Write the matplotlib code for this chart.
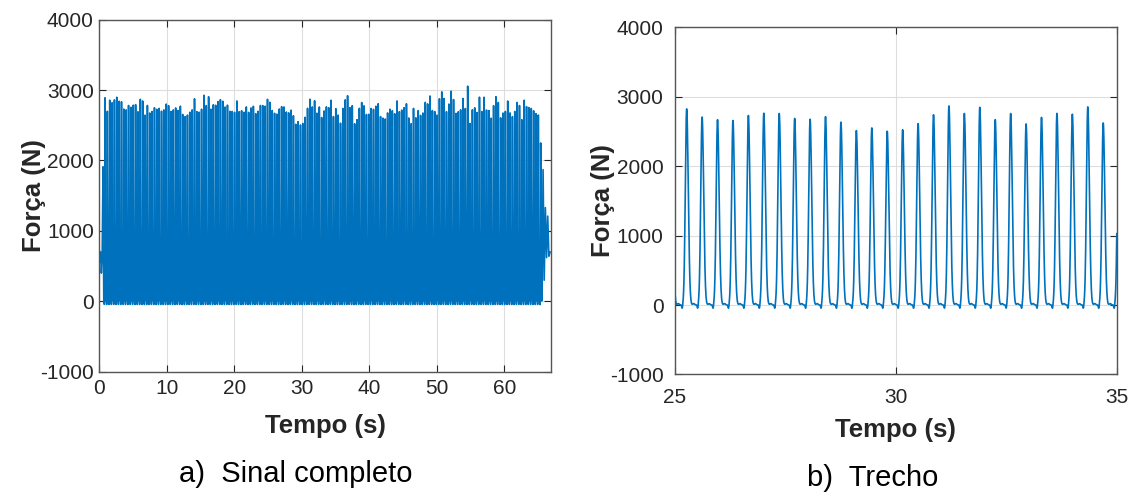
import numpy as np
import matplotlib
matplotlib.use('Agg')
import matplotlib.pyplot as plt

# Peak force of each load cycle (N)
# cycles repeat every ~0.349 s, first full cycle at ~0.84 s
peaks_00_30 = [2890, 2700, 2860, 2820, 2860, 2900, 2845, 2835, 2730, 2720, 2785,
               2755, 2785, 2795, 2695, 2870, 2845, 2645, 2785, 2675, 2695, 2750,
               2730, 2740, 2700, 2720, 2805, 2780, 2695, 2720, 2750]
peaks_31_63 = [2710, 2770, 2655, 2625, 2645, 2685, 2720, 2880, 2695, 2685, 2730,
               2930, 2780, 2905, 2730, 2795, 2785, 2835, 2865, 2845, 2760, 2785,
               2700, 2700, 2685, 2845, 2695, 2710, 2685, 2760, 2685, 2750, 2770]
peaks_64_69 = [2665, 2700, 2785, 2780, 2770, 2870]
# the 25-35 s window (panel b)
peaks_70_97 = [2830, 2710, 2670, 2660, 2735, 2765, 2760, 2690, 2680, 2715, 2635,
               2515, 2555, 2505, 2525, 2615, 2745, 2870, 2760, 2850, 2675, 2760,
               2610, 2705, 2765, 2750, 2855, 2625]
peaks_98_129 = [2740, 2645, 2530, 2740, 2865, 2920, 2750, 2780, 2525, 2580, 2740,
                2825, 2780, 2655, 2655, 2740, 2730, 2770, 2805, 2625, 2605, 2590,
                2675, 2730, 2710, 2665, 2845, 2695, 2720, 2750, 2805, 2605]
peaks_130_163 = [2525, 2740, 2605, 2710, 2645, 2675, 2825, 2805, 2920, 2710, 2695,
                 2645, 2880, 2975, 2880, 2695, 2805, 2985, 2865, 2670, 2695, 2720,
                 2880, 2740, 3060, 2525, 2720, 2750, 2685, 2900, 2695, 2900, 2720, 2710]
peaks_164_185 = [2600, 2780, 2910, 2825, 2605, 2675, 2700, 2845, 2675, 2625, 2700,
                 2825, 2780, 2580, 2860, 2765, 2750, 2740, 2710, 2665, 2645, 2250]

t_first = 0.84
period = 0.349

# start of the record (before the regular cycles) and end of the record
start_t = [0.0, 0.1, 0.2, 0.3, 0.42, 0.55, 0.66]
start_f = [720, 560, 700, 400, 620, 1910, -20]
tail_t = [65.62, 65.76, 65.93, 66.10, 66.28, 66.45, 66.62, 66.80]
tail_f = [60, 1870, 300, 1330, 620, 1210, 640, 700]

peaks = (peaks_00_30 + peaks_31_63 + peaks_64_69 + peaks_70_97 + peaks_98_129
         + peaks_130_163 + peaks_164_185)

# build the sampled signal of the regular cycles
t_main = np.arange(0.70, 65.60, 0.004)
f_main = np.zeros_like(t_main)
for k, p in enumerate(peaks):
    tk = t_first + k * period
    d = t_main - tk
    sig = np.where(d < 0, 0.030, 0.036)
    f_main += p * np.exp(-0.5 * (d / sig) ** 2)
    f_main += -55 * np.exp(-0.5 * ((d + 0.10) / 0.010) ** 2)
    f_main += 20 * np.exp(-0.5 * ((d - 0.16) / 0.020) ** 2)

t = np.concatenate([start_t, t_main, tail_t])
f = np.concatenate([start_f, f_main, tail_f])

plt.rcParams['font.family'] = ['Liberation Sans', 'DejaVu Sans']
plt.rcParams['axes.unicode_minus'] = False
blue = '#0072BD'

fig = plt.figure(figsize=(11.3, 4.94), dpi=100)
ax1 = fig.add_axes([0.0879, 0.2476, 0.3995, 0.7126])
ax2 = fig.add_axes([0.5971, 0.2421, 0.3912, 0.7024])

ax1.plot(t, f, color=blue, lw=1.2)
ax1.set_xlim(0, 66.9)
ax1.set_xticks(range(0, 61, 10))

ax2.plot(t, f, color=blue, lw=1.2)
ax2.set_xlim(25, 35)
ax2.set_xticks([25, 30, 35])

for ax in (ax1, ax2):
    ax.set_ylim(-1000, 4000)
    ax.set_yticks(range(-1000, 4001, 1000))
    ax.grid(True, color='#dddddd', lw=0.8)
    ax.set_axisbelow(True)
    ax.tick_params(direction='in', top=True, right=True, length=5,
                   labelsize=15, colors='#262626', width=0.8)
    for s in ax.spines.values():
        s.set_color('#555555')
        s.set_linewidth(1.0)

ax1.tick_params(axis='x', pad=5)
ax1.tick_params(axis='y', pad=4)
ax2.tick_params(axis='x', pad=10)
ax2.tick_params(axis='y', pad=8)

ax1.set_xlabel('Tempo (s)', fontsize=18.5, fontweight='bold', color='#262626', labelpad=12)
ax1.set_ylabel('Força (N)', fontsize=18.5, fontweight='bold', color='#262626', labelpad=-4)
ax2.set_xlabel('Tempo (s)', fontsize=18.5, fontweight='bold', color='#262626', labelpad=8)
ax2.set_ylabel('Força (N)', fontsize=18.5, fontweight='bold', color='#262626', labelpad=-4)

fig.text(0.262, 0.040, 'a)  Sinal completo', ha='center', va='center', fontsize=21)
fig.text(0.7726, 0.032, 'b)  Trecho', ha='center', va='center', fontsize=21)

fig.savefig('out.png', dpi=100)
